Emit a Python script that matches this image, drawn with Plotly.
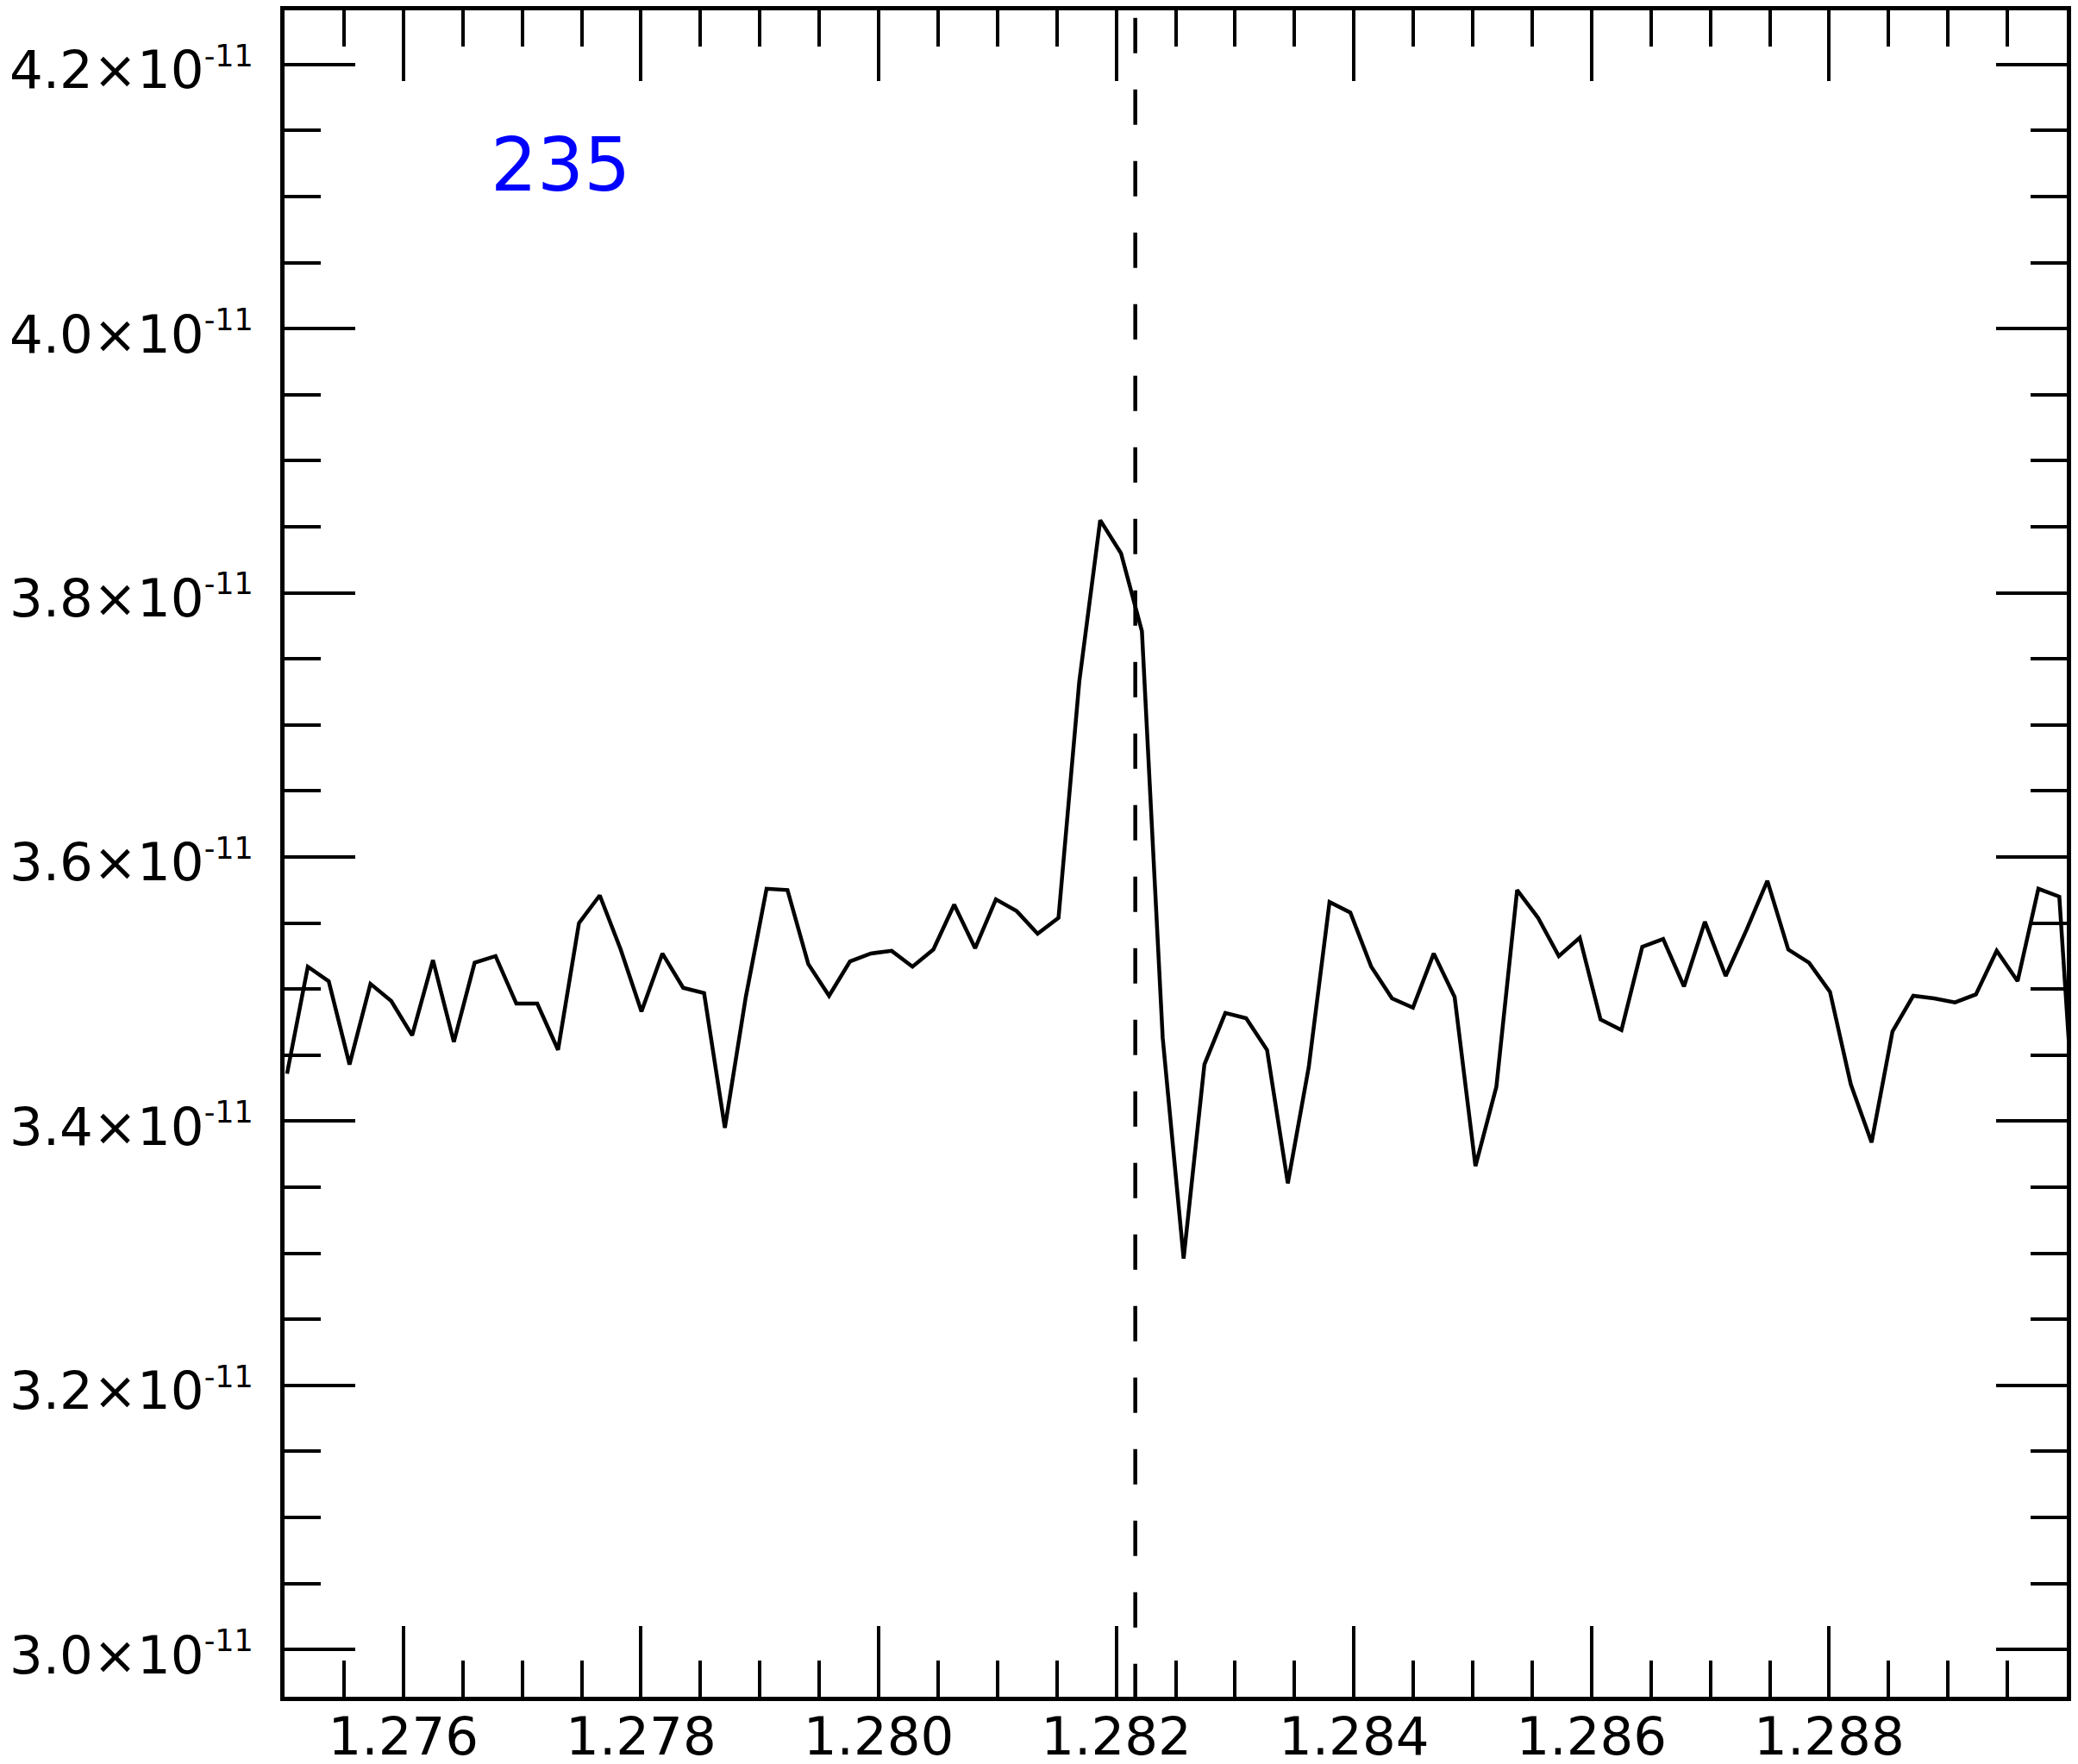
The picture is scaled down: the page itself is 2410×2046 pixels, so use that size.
import plotly.graph_objects as go
import numpy as np

# wavelength grid (micron)
wave = [1.275021, 1.275196, 1.275372, 1.275547, 1.275723, 1.275898, 1.276074, 1.276249, 1.276425, 1.276600,
        1.276776, 1.276951, 1.277127, 1.277302, 1.277478, 1.277653, 1.277829, 1.278004, 1.278180, 1.278355,
        1.278531, 1.278706, 1.278882, 1.279057, 1.279233, 1.279408, 1.279583, 1.279759, 1.279934, 1.280110,
        1.280285, 1.280461, 1.280636, 1.280812, 1.280987, 1.281163, 1.281338, 1.281514, 1.281689, 1.281865,
        1.282040, 1.282216, 1.282391, 1.282567, 1.282742, 1.282918, 1.283093, 1.283269, 1.283444, 1.283620,
        1.283795, 1.283970, 1.284146, 1.284321, 1.284497, 1.284672, 1.284848, 1.285023, 1.285199, 1.285374,
        1.285550, 1.285725, 1.285901, 1.286076, 1.286252, 1.286427, 1.286603, 1.286778, 1.286954, 1.287129,
        1.287305, 1.287480, 1.287656, 1.287831, 1.288007, 1.288182, 1.288357, 1.288533, 1.288708, 1.288884,
        1.289059, 1.289235, 1.289410, 1.289586, 1.289761, 1.289937, 1.290112]

# flux in units of 1e-11
flux = [3.436, 3.517, 3.506, 3.443, 3.504, 3.491, 3.465, 3.522, 3.460, 3.520,
        3.525, 3.489, 3.489, 3.454, 3.550, 3.571, 3.530, 3.483, 3.527, 3.501,
        3.497, 3.395, 3.494, 3.576, 3.575, 3.519, 3.495, 3.521, 3.527, 3.529,
        3.517, 3.530, 3.564, 3.531, 3.568, 3.559, 3.542, 3.554, 3.733, 3.855,
        3.830, 3.771, 3.463, 3.296, 3.443, 3.482, 3.478, 3.454, 3.353, 3.441,
        3.566, 3.558, 3.517, 3.493, 3.486, 3.527, 3.494, 3.366, 3.426, 3.575,
        3.554, 3.525, 3.539, 3.477, 3.469, 3.532, 3.538, 3.502, 3.551, 3.510,
        3.545, 3.582, 3.530, 3.520, 3.498, 3.428, 3.384, 3.468, 3.495, 3.493,
        3.490, 3.496, 3.529, 3.506, 3.576, 3.570, 3.330]

x_ticks = [1.276, 1.278, 1.280, 1.282, 1.284, 1.286, 1.288]
x_tick_labels = ["1.276", "1.278", "1.280", "1.282", "1.284", "1.286", "1.288"]
y_ticks = [3.0, 3.2, 3.4, 3.6, 3.8, 4.0, 4.2]
y_tick_labels = ["3.0", "3.2", "3.4", "3.6", "3.8", "4.0", "4.2"]

line_wave = 1.28216  # Pa beta
label = "235"

scale = 1e-11
y = np.array(flux) * scale

fig = go.Figure()
fig.add_trace(go.Scatter(x=wave, y=y, mode='lines', line=dict(color='black', width=4.5),
                         hoverinfo='skip', showlegend=False))

ymin, ymax = 2.9643e-11, 4.2410e-11

fig.add_shape(type='line', xref='x', yref='y', x0=line_wave, x1=line_wave,
              y0=4.2353e-11, y1=ymin,
              line=dict(color='black', width=4.5, dash='41px,42px'))

fig.add_annotation(text=label, x=1.27732, y=4.1238e-11, xref='x', yref='y',
                   xanchor='center', yanchor='middle', showarrow=False,
                   font=dict(family='DejaVu Sans', size=85, color='#0000ff'))

tickfont = dict(family='DejaVu Sans', size=61, color='black')
common = dict(ticks='inside', ticklen=82, tickwidth=4, tickcolor='black',
              showline=True, linewidth=5, linecolor='black', mirror='allticks',
              showgrid=False, zeroline=False, tickfont=tickfont, automargin=False)

fig.update_xaxes(range=[1.275, 1.290], tickmode='array', tickvals=x_ticks, ticktext=x_tick_labels,
                 minor=dict(tickmode='linear', tick0=1.275, dtick=0.0005, ticks='inside',
                            ticklen=42, tickwidth=4, tickcolor='black', showgrid=False),
                 ticklabelstandoff=-11, **common)
fig.update_yaxes(range=[ymin, ymax], tickmode='array',
                 tickvals=[v * scale for v in y_ticks],
                 ticktext=[f"{t}×10<sup><span style='font-size:35px'>-11</span></sup>" for t in y_tick_labels],
                 minor=dict(tickmode='linear', tick0=3.0e-11, dtick=0.05e-11, ticks='inside',
                            ticklen=42, tickwidth=4, tickcolor='black', showgrid=False),
                 ticklabelstandoff=19, ticklabelshift=6, **common)

fig.update_layout(width=2410, height=2046,
                  margin=dict(l=330, r=13, t=12, b=78, pad=0),
                  plot_bgcolor='white', paper_bgcolor='white',
                  font=dict(family='DejaVu Sans', color='black'))

fig.write_html("out.html", config={'displayModeBar': False},
               post_script="document.body.style.margin='0';")
